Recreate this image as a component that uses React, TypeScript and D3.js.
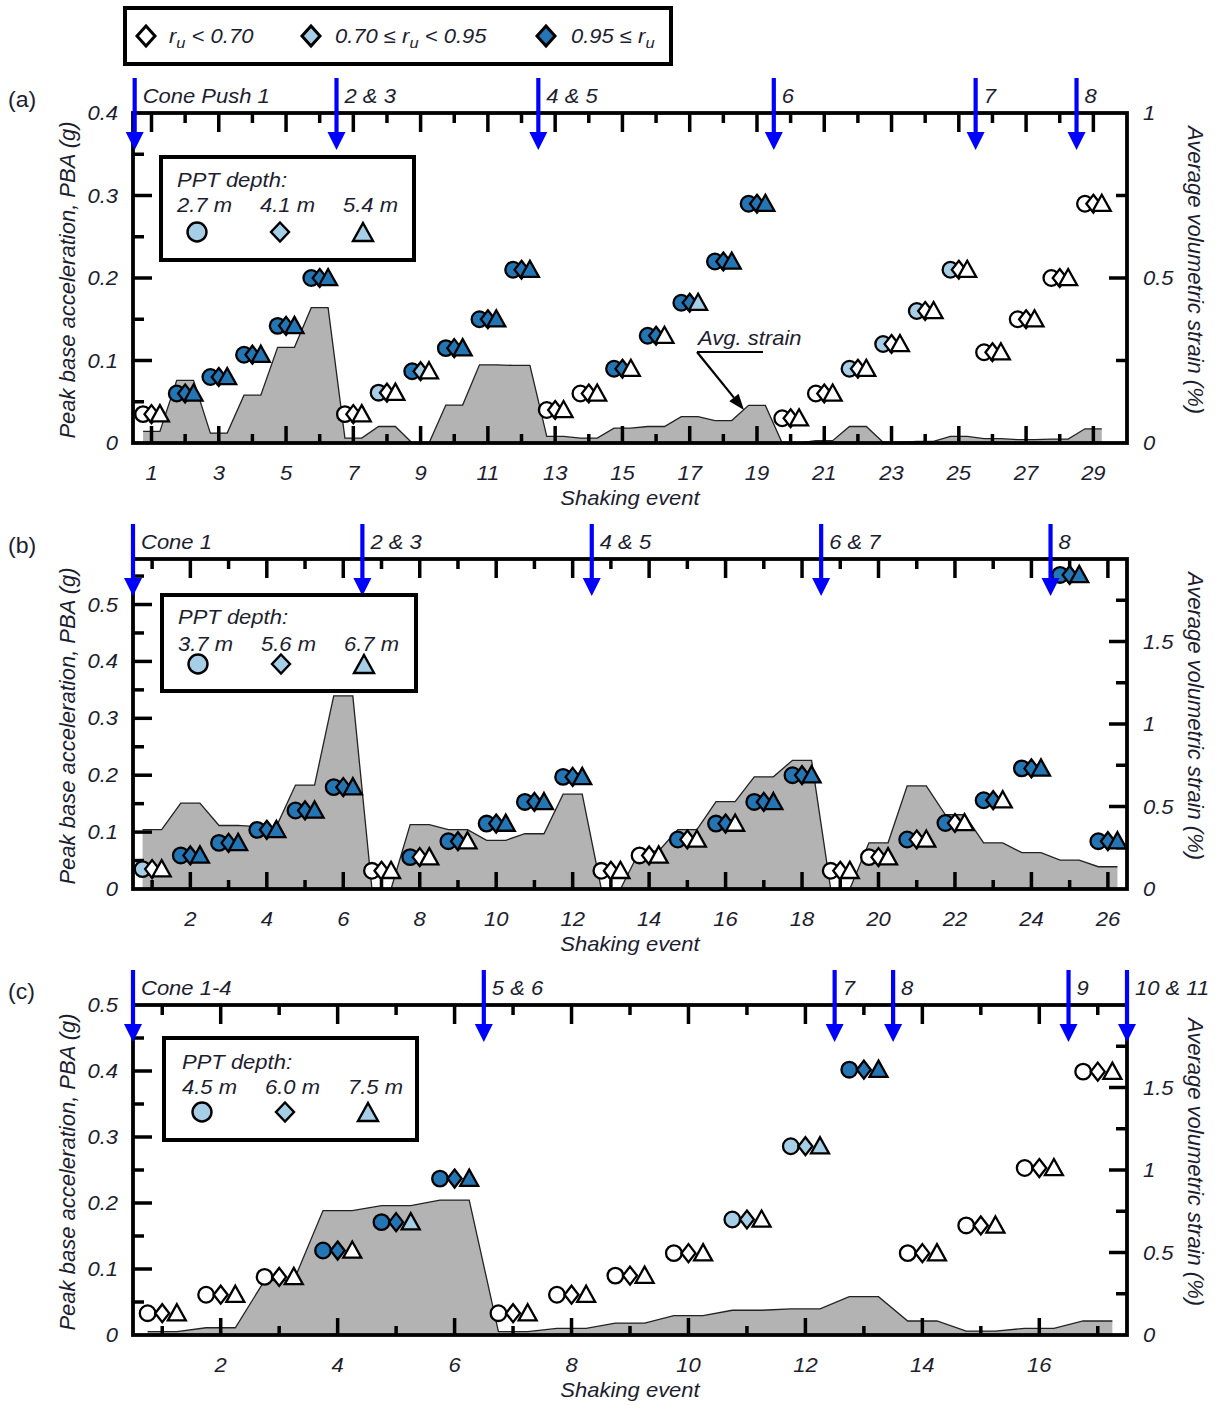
import React from 'react';
import * as d3 from 'd3';

// ---- shared geometry ----
const W = 1222;
const H = 1405;
const PLOT_LEFT = 133;
const PLOT_RIGHT = 1127;
const PLOT_H = 330;

const FONT = "'Liberation Sans', Arial, Helvetica, sans-serif";
const INK = '#1d1d30';
const LIGHT = '#a6cee6';
const DARK = '#2475b4';
const ARROW = '#0000ff';
const AREA = '#b3b3b3';

// ---- panel (a) ----
const pbaA = [0.035, 0.06, 0.08, 0.107, 0.142, 0.2, 0.035, 0.061, 0.087, 0.115, 0.15, 0.21, 0.04, 0.06, 0.09,
  0.13, 0.17, 0.22, 0.29, 0.03, 0.06, 0.09, 0.12, 0.16, 0.21, 0.11, 0.15, 0.2, 0.29];
// r_u class per PPT (circle, diamond, triangle): w = r_u < 0.70, l = 0.70-0.95, d = >= 0.95
const ruA = ['www', 'ddd', 'ddd', 'ddd', 'ddd', 'ddd', 'www', 'lww', 'dlw', 'ddd', 'ddd', 'ddd', 'www', 'www', 'ddw',
  'ddw', 'ddl', 'ddd', 'ddd', 'www', 'www', 'lww', 'lww', 'lww', 'lww', 'www', 'www', 'www', 'www'];
const strainA = [0.035, 0.19, 0.03, 0.145, 0.29, 0.41, 0.015, 0.05, 0.0, 0.115, 0.237, 0.235, 0.02, 0.015, 0.045,
  0.05, 0.08, 0.068, 0.114, 0.0, 0.007, 0.05, 0.002, 0.005, 0.02, 0.013, 0.01, 0.012, 0.043];
const conesA = [0.5, 6.5, 12.5, 19.5, 25.5, 28.5];
const coneLabelsA = ['Cone Push 1', '2 & 3', '4 & 5', '6', '7', '8'];
const depthsA = ['2.7 m', '4.1 m', '5.4 m'];

// ---- panel (b) ----
const pbaB = [0.035, 0.059, 0.081, 0.104, 0.138, 0.179, 0.032, 0.056, 0.084, 0.115, 0.153, 0.197, 0.032, 0.059,
  0.087, 0.115, 0.153, 0.2, 0.032, 0.056, 0.087, 0.116, 0.156, 0.212, 0.552, 0.084];
const ruB = ['lww', 'ddd', 'ddd', 'ddd', 'ddd', 'ddd', 'www', 'dww', 'ddw', 'ddd', 'ddd', 'ddd', 'www', 'www',
  'dww', 'ddw', 'ddd', 'ddd', 'www', 'www', 'dww', 'dww', 'ddw', 'ddd', 'ddd', 'ddd'];
const strainB = [0.36, 0.52, 0.385, 0.378, 0.63, 1.17, 0.0, 0.39, 0.36, 0.295, 0.335, 0.575, 0.0, 0.23,
  0.36, 0.53, 0.68, 0.78, 0.0, 0.28, 0.625, 0.45, 0.28, 0.22, 0.175, 0.135];
const conesB = [0.5, 6.5, 12.5, 18.5, 24.5];
const coneLabelsB = ['Cone 1', '2 & 3', '4 & 5', '6 & 7', '8'];
const depthsB = ['3.7 m', '5.6 m', '6.7 m'];

// ---- panel (c) ----
const pbaC = [0.033, 0.061, 0.088, 0.128, 0.171, 0.237, 0.033, 0.061, 0.09, 0.124, 0.175, 0.286, 0.402,
  0.124, 0.166, 0.253, 0.399];
const ruC = ['www', 'www', 'www', 'ddw', 'ddl', 'ddd', 'www', 'www', 'www', 'www', 'llw', 'lll', 'ddd',
  'www', 'www', 'www', 'www'];
const strainC = [0.02, 0.044, 0.33, 0.754, 0.784, 0.818, 0.02, 0.04, 0.072, 0.117, 0.15, 0.158, 0.232,
  0.085, 0.024, 0.04, 0.085];
const conesC = [0.5, 6.5, 12.5, 13.5, 16.5, 17.5];
const coneLabelsC = ['Cone 1-4', '5 & 6', '7', '8', '9', '10 & 11'];
const depthsC = ['4.5 m', '6.0 m', '7.5 m'];

const fillOf = (c: string) => (c === 'd' ? DARK : c === 'l' ? LIGHT : '#ffffff');

type TProps = {
  x: number; y: number; children: React.ReactNode; anchor?: string; size?: number;
  italic?: boolean; sx?: number; dy?: string;
};
function T({ x, y, children, anchor = 'start', size = 20, italic = true, sx = 1.1, dy }: TProps) {
  return (
    <text transform={`translate(${x},${y}) scale(${sx},1)`} textAnchor={anchor as any} fontSize={size}
      fontStyle={italic ? 'italic' : 'normal'} fontFamily={FONT} fill={INK} dy={dy}>
      {children}
    </text>
  );
}

function Diamond({ cx, cy, hw, hh, fill, sw }: { cx: number; cy: number; hw: number; hh: number; fill: string; sw: number }) {
  return (
    <polygon points={`${cx},${cy - hh} ${cx + hw},${cy} ${cx},${cy + hh} ${cx - hw},${cy}`}
      fill={fill} stroke="#000" strokeWidth={sw} strokeLinejoin="miter" />
  );
}

function Triangle({ cx, cy, s, fill, sw }: { cx: number; cy: number; s: number; fill: string; sw: number }) {
  return (
    <polygon points={`${cx},${cy - s} ${cx + s},${cy + s * 0.8} ${cx - s},${cy + s * 0.8}`}
      fill={fill} stroke="#000" strokeWidth={sw} strokeLinejoin="miter" />
  );
}

type PanelCfg = {
  tag: string;
  top: number;
  xDomain: [number, number];
  yMax: number;
  rMax: number;
  rLabelMax: number;
  majorOdd: boolean;
  pba: number[];
  ru: string[];
  strain: number[];
  cones: number[];
  coneLabels: string[];
  depths: string[];
  legend: { x: number; y: number; w: number; h: number; title: number; labels: number; marks: number; dx: number };
  annotate?: boolean;
};

function Panel({ cfg }: { cfg: PanelCfg }) {
  const { top } = cfg;
  const bottom = top + PLOT_H;
  const x = d3.scaleLinear().domain(cfg.xDomain).range([PLOT_LEFT, PLOT_RIGHT]);
  const y = d3.scaleLinear().domain([0, cfg.yMax]).range([bottom, top]);
  const yr = d3.scaleLinear().domain([0, cfg.rMax]).range([bottom, top]);

  const events = cfg.pba.map((_, i) => i + 1);

  // strain drawn as a plateau around each event joined by straight segments
  const pts: [number, number][] = [];
  cfg.strain.forEach((s, i) => {
    pts.push([i + 1 - 0.25, s], [i + 1 + 0.25, s]);
  });
  const area = d3.area<[number, number]>().x((d) => x(d[0])).y0(yr(0)).y1((d) => yr(d[1]));
  const line = d3.line<[number, number]>().x((d) => x(d[0])).y((d) => yr(d[1]));

  const isMajor = (e: number) => (cfg.majorOdd ? e % 2 === 1 : e % 2 === 0);
  const MAJ = 17;
  const MIN = 9;

  const yTicks: number[] = [];
  for (let k = 1; k * 0.05 < cfg.yMax - 1e-6; k++) yTicks.push(Math.round(k * 5) / 100);
  const yLabels: number[] = [];
  for (let k = 0; k * 0.1 <= cfg.yMax + 1e-6; k++) yLabels.push(Math.round(k * 10) / 100 * 1);
  const rTicks: number[] = [];
  for (let k = 1; k * 0.25 < cfg.rMax - 1e-6; k++) rTicks.push(k * 0.25);
  const rLabels: number[] = [];
  for (let k = 0; k * 0.5 <= cfg.rLabelMax + 1e-6; k++) rLabels.push(k * 0.5);

  const lg = cfg.legend;
  const midY = (top + bottom) / 2;

  // annotation arrow for the average strain curve
  let annot: React.ReactNode = null;
  if (cfg.annotate) {
    const sx = 697, sy = 352;
    const tx = 744, ty = 410;
    const len = Math.hypot(tx - sx, ty - sy);
    const ux = (tx - sx) / len, uy = (ty - sy) / len;
    const bx = tx - 16 * ux, by = ty - 16 * uy;
    const px = -uy, py = ux;
    annot = (
      <g>
        <T x={698} y={345}>Avg. strain</T>
        <line x1={sx} y1={sy} x2={763} y2={sy} stroke="#000" strokeWidth={2.2} />
        <line x1={sx} y1={sy} x2={bx} y2={by} stroke="#000" strokeWidth={2.2} />
        <polygon points={`${tx},${ty} ${bx + 6 * px},${by + 6 * py} ${bx - 6 * px},${by - 6 * py}`} fill="#000" />
      </g>
    );
  }

  return (
    <g>
      <T x={8} y={top - 6} italic={false} size={22} sx={1.05}>{cfg.tag}</T>

      {/* strain area */}
      <path d={area(pts) || ''} fill={AREA} />
      <path d={line(pts) || ''} fill="none" stroke="#222" strokeWidth={1.3} />

      {/* x ticks, bottom and top */}
      {events.map((e) => (
        <g key={`xt${e}`}>
          <line x1={x(e)} x2={x(e)} y1={bottom} y2={bottom - (isMajor(e) ? MAJ : MIN)} stroke="#000" strokeWidth={3.5} />
          <line x1={x(e)} x2={x(e)} y1={top} y2={top + (isMajor(e) ? MAJ + 2 : MIN + 1)} stroke="#000" strokeWidth={3.5} />
          {isMajor(e) && (
            <T x={x(e)} y={bottom + 37} anchor="middle">{e}</T>
          )}
        </g>
      ))}

      {/* left ticks */}
      {yTicks.map((v) => {
        const major = Math.abs(v * 10 - Math.round(v * 10)) < 1e-6;
        return <line key={`yt${v}`} x1={PLOT_LEFT} x2={PLOT_LEFT + (major ? MAJ + 2 : MIN + 2)} y1={y(v)} y2={y(v)}
          stroke="#000" strokeWidth={3.5} />;
      })}
      {yLabels.map((v) => (
        <T key={`yl${v}`} x={118} y={y(v)} anchor="end" dy="0.35em">{v === 0 ? '0' : v.toFixed(1)}</T>
      ))}

      {/* right ticks */}
      {rTicks.map((v) => {
        const major = Math.abs(v * 2 - Math.round(v * 2)) < 1e-6;
        return <line key={`rt${v}`} x1={PLOT_RIGHT} x2={PLOT_RIGHT - (major ? MAJ + 1 : MIN + 2)} y1={yr(v)} y2={yr(v)}
          stroke="#000" strokeWidth={3.5} />;
      })}
      {rLabels.map((v) => (
        <T key={`rl${v}`} x={1143} y={yr(v)} dy="0.35em">{String(v)}</T>
      ))}

      {/* frame */}
      <rect x={PLOT_LEFT} y={top} width={PLOT_RIGHT - PLOT_LEFT} height={PLOT_H} fill="none" stroke="#000" strokeWidth={3.8} />

      {annot}

      {/* PPT markers */}
      {events.map((e, i) => {
        const cy = y(cfg.pba[i]);
        const cls = cfg.ru[i];
        return (
          <g key={`m${e}`}>
            <circle cx={x(e - 0.25)} cy={cy} r={7.8} fill={fillOf(cls[0])} stroke="#000" strokeWidth={2.3} />
            <Diamond cx={x(e)} cy={cy} hw={7} hh={9} fill={fillOf(cls[1])} sw={2.3} />
            <Triangle cx={x(e + 0.25)} cy={cy} s={9} fill={fillOf(cls[2])} sw={2.3} />
          </g>
        );
      })}

      {/* cone push arrows */}
      {cfg.cones.map((c, i) => {
        const ax = x(c);
        return (
          <g key={`c${i}`}>
            <line x1={ax} x2={ax} y1={top - 35} y2={top + 22} stroke={ARROW} strokeWidth={4.2} />
            <polygon points={`${ax - 9},${top + 19} ${ax + 9},${top + 19} ${ax},${top + 37}`} fill={ARROW} />
            <T x={ax + 8} y={top - 10}>{cfg.coneLabels[i]}</T>
          </g>
        );
      })}

      {/* axis titles */}
      <text transform={`translate(75,${midY + 2}) rotate(-90)`} textAnchor="middle" fontSize={22}
        fontStyle="italic" fontFamily={FONT} fill={INK}>Peak base acceleration, PBA (g)</text>
      <text transform={`translate(1188,${midY - 8}) rotate(90)`} textAnchor="middle" fontSize={22}
        fontStyle="italic" fontFamily={FONT} fill={INK}>Average volumetric strain (%)</text>
      <T x={(PLOT_LEFT + PLOT_RIGHT) / 2} y={bottom + 62} anchor="middle">Shaking event</T>

      {/* PPT depth legend */}
      <rect x={lg.x} y={lg.y} width={lg.w} height={lg.h} fill="#fff" stroke="#000" strokeWidth={4} />
      <T x={lg.x + 16 + lg.dx} y={lg.y + lg.title}>PPT depth:</T>
      {cfg.depths.map((d, i) => (
        <T key={`d${i}`} x={lg.x + 16 + lg.dx + i * 83} y={lg.y + lg.labels}>{d}</T>
      ))}
      <circle cx={lg.x + 36 + lg.dx} cy={lg.y + lg.marks} r={9.5} fill={LIGHT} stroke="#000" strokeWidth={2.4} />
      <Diamond cx={lg.x + 119 + lg.dx} cy={lg.y + lg.marks} hw={9} hh={9.5} fill={LIGHT} sw={2.4} />
      <Triangle cx={lg.x + 202 + lg.dx} cy={lg.y + lg.marks + 1} s={10} fill={LIGHT} sw={2.4} />
    </g>
  );
}

const panels: PanelCfg[] = [
  {
    tag: '(a)', top: 113, xDomain: [0.45, 30], yMax: 0.4, rMax: 1, rLabelMax: 1, majorOdd: true,
    pba: pbaA, ru: ruA, strain: strainA, cones: conesA, coneLabels: coneLabelsA, depths: depthsA,
    legend: { x: 161, y: 157, w: 253, h: 103, title: 30, labels: 55, marks: 75, dx: 0 }, annotate: true,
  },
  {
    tag: '(b)', top: 559, xDomain: [0.5, 26.5], yMax: 0.58, rMax: 2, rLabelMax: 1.5, majorOdd: false,
    pba: pbaB, ru: ruB, strain: strainB, cones: conesB, coneLabels: coneLabelsB, depths: depthsB,
    legend: { x: 162, y: 595, w: 254, h: 96, title: 29, labels: 56, marks: 69, dx: 0 },
  },
  {
    tag: '(c)', top: 1005, xDomain: [0.5, 17.5], yMax: 0.5, rMax: 2, rLabelMax: 1.5, majorOdd: false,
    pba: pbaC, ru: ruC, strain: strainC, cones: conesC, coneLabels: coneLabelsC, depths: depthsC,
    legend: { x: 164, y: 1038, w: 253, h: 102, title: 31, labels: 56, marks: 74, dx: 2 },
  },
];

function TopLegend() {
  const items = [
    { cx: 146, tx: 169, fill: '#ffffff', content: (
      <>r<tspan dy="5" fontSize={15}>u</tspan><tspan dy="-5"> &lt; 0.70</tspan></>
    ) },
    { cx: 311, tx: 335, fill: LIGHT, content: (
      <>0.70 ≤ r<tspan dy="5" fontSize={15}>u</tspan><tspan dy="-5"> &lt; 0.95</tspan></>
    ) },
    { cx: 546, tx: 571, fill: DARK, content: (
      <>0.95 ≤ r<tspan dy="5" fontSize={15}>u</tspan></>
    ) },
  ];
  return (
    <g>
      <rect x={125} y={8} width={546} height={56} fill="#fff" stroke="#000" strokeWidth={4} />
      {items.map((it, i) => (
        <g key={i}>
          <Diamond cx={it.cx} cy={36} hw={9} hh={10} fill={it.fill} sw={3} />
          <T x={it.tx} y={43}>{it.content}</T>
        </g>
      ))}
    </g>
  );
}

export default function App() {
  return (
    <svg width={W} height={H} viewBox={`0 0 ${W} ${H}`}
      style={{ position: 'absolute', left: 0, top: 0, background: '#fff' }}>
      <rect x={0} y={0} width={W} height={H} fill="#fff" />
      <TopLegend />
      {panels.map((p) => (
        <Panel key={p.tag} cfg={p} />
      ))}
    </svg>
  );
}
